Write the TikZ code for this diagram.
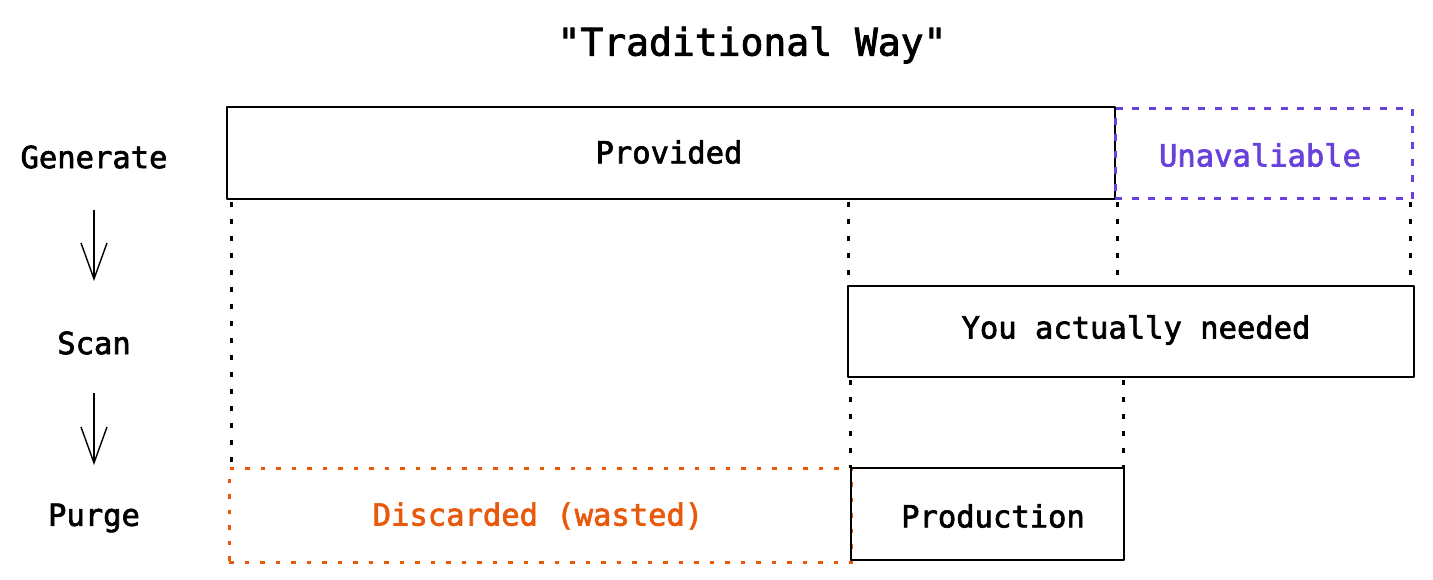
\documentclass[tikz,border=0pt]{standalone}
\usepackage{fontspec}
\newfontfamily\sketchfont[FakeBold=2.2]{DejaVu Sans Mono}
\usetikzlibrary{arrows.meta}
\definecolor{violet}{HTML}{6741D9}
\definecolor{orangered}{HTML}{E8590C}
\tikzset{
  lbl/.style={font=\sketchfont\fontsize{30.5}{36}\selectfont, text=black, inner sep=0pt},
  ttl/.style={font=\sketchfont\fontsize{38}{44}\selectfont, text=black, inner sep=0pt},
  solidbox/.style={draw=black, line width=2.6pt, line join=round, inner sep=0pt},
  violetbox/.style={draw=violet, line width=3pt, dash pattern=on 7pt off 9.5pt, inner sep=0pt},
  orangebox/.style={draw=orangered, line width=3pt, dash pattern=on 4.5pt off 11pt, inner sep=0pt},
  guide/.style={draw=black, line width=3pt, dash pattern=on 5pt off 12pt},
  flow/.style={draw=black, line width=1.4pt, -{Straight Barb[length=36pt,width=26pt,line width=1.4pt]}}
}
\begin{document}
\begin{tikzpicture}[x=1pt,y=-1pt]
\useasboundingbox (0,0) rectangle (1433,580);
% title
\node[ttl] (title) at (752,45) {"Traditional Way"};
% step labels
\node[lbl] (gen) at (94,157) {Generate};
\node[lbl] (scan) at (94,343) {Scan};
\node[lbl] (purge) at (94,518) {Purge};
\coordinate (a1s) at (94,210);
\coordinate (a1e) at (94,281);
\coordinate (a2s) at (94,393);
\coordinate (a2e) at (94,465);
\draw[flow] (a1s) -- (a1e);
\draw[flow] (a2s) -- (a2e);
% boxes
\node[solidbox, minimum width=888pt, minimum height=92pt] (prov) at (671,153) {};
\node[lbl] at (669,152) {Provided};
\node[violetbox, minimum width=297pt, minimum height=90pt] (unav) at (1263.5,154) {};
\node[lbl, text=violet] at (1260,155) {Unavaliable};
\node[solidbox, minimum width=566pt, minimum height=91pt] (need) at (1131,331.5) {};
\node[lbl] at (1136,330) {You actually needed};
\node[orangebox, minimum width=622pt, minimum height=94pt] (disc) at (540,515) {};
\node[lbl, text=orangered] at (538,516) {Discarded (wasted)};
\node[solidbox, minimum width=273pt, minimum height=92pt] (prod) at (987.5,514) {};
\node[lbl] at (993,516) {Production};
% guides
\coordinate (g1a) at (231,202);
\coordinate (g1b) at (231,468);
\coordinate (g2a) at (848,202);
\coordinate (g2b) at (848,286);
\coordinate (g3a) at (1117,202);
\coordinate (g3b) at (1117,280);
\coordinate (g4a) at (1410,202);
\coordinate (g4b) at (1410,286);
\coordinate (g5a) at (850,380);
\coordinate (g5b) at (850,468);
\coordinate (g6a) at (1123,380);
\coordinate (g6b) at (1123,468);
\draw[guide] (g1a) -- (g1b);
\draw[guide] (g2a) -- (g2b);
\draw[guide] (g3a) -- (g3b);
\draw[guide] (g4a) -- (g4b);
\draw[guide] (g5a) -- (g5b);
\draw[guide] (g6a) -- (g6b);
\end{tikzpicture}
\end{document}
